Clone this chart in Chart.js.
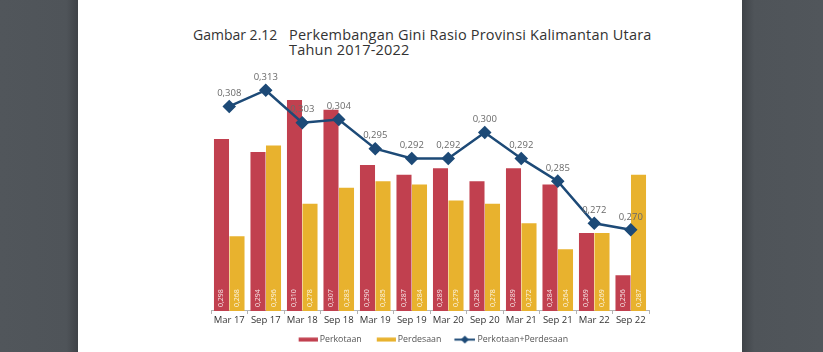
<!DOCTYPE html>
<html>
<head>
<meta charset="utf-8">
<script src="https://cdn.jsdelivr.net/npm/chart.js@4.4.1/dist/chart.umd.min.js"></script>
<style>
  html, body { margin:0; padding:0; background:#fff; }
  body { width:823px; height:352px; position:relative; overflow:hidden; }
  .strip { position:absolute; top:0; height:352px; background:#4f5459; }
  #leftStrip { left:0; width:78px; background:linear-gradient(to right,#51565b 0%,#4f5459 85%,#3f4348 100%); }
  #rightStrip { left:742px; width:81px; background:linear-gradient(to left,#51565b 0%,#4f5459 85%,#3f4348 100%); }
  .t { position:absolute; font-family:"Open Sans",sans-serif; color:#333; white-space:nowrap; line-height:15px; }
  #chartWrap { position:absolute; left:78px; top:60px; width:664px; height:294px; }
</style>
</head>
<body>
<div id="leftStrip" class="strip"></div>
<div id="rightStrip" class="strip"></div>
<div class="t" style="left:193px; top:27px; font-size:14px;">Gambar 2.12</div>
<div class="t" style="left:289px; top:27px; font-size:14.5px; letter-spacing:0.2px;">Perkembangan Gini Rasio Provinsi Kalimantan Utara</div>
<div class="t" style="left:289px; top:42px; font-size:14.5px; letter-spacing:0.2px;">Tahun 2017-2022</div>
<div id="chartWrap"><canvas id="c" width="664" height="294"></canvas></div>
<script>
const categories = ['Mar 17','Sep 17','Mar 18','Sep 18','Mar 19','Sep 19','Mar 20','Sep 20','Mar 21','Sep 21','Mar 22','Sep 22'];
const perkotaan = [0.298,0.294,0.310,0.307,0.290,0.287,0.289,0.285,0.289,0.284,0.269,0.256];
const perdesaan = [0.268,0.296,0.278,0.283,0.285,0.284,0.279,0.278,0.272,0.264,0.269,0.287];
const gabungan  = [0.308,0.313,0.303,0.304,0.295,0.292,0.292,0.300,0.292,0.285,0.272,0.270];
const seriesNames = ['Perkotaan','Perdesaan','Perkotaan+Perdesaan'];

const RED = '#c1404f', YEL = '#e8b22e', NAVY = '#1d4a77';

// legend icons: transparent margin on the left so the visible mark sits close to its text
function boxIcon(color){
  const c = document.createElement('canvas'); c.width = 28; c.height = 5;
  const x = c.getContext('2d'); x.fillStyle = color; x.fillRect(8.95,0.5,19,4); return c;
}
function lineIcon(){
  const c = document.createElement('canvas'); c.width = 28; c.height = 9;
  const x = c.getContext('2d');
  x.strokeStyle = NAVY; x.lineWidth = 2; x.beginPath(); x.moveTo(6.95,4.5); x.lineTo(27.95,4.5); x.stroke();
  x.fillStyle = NAVY; x.beginPath(); x.moveTo(17.45,0.5); x.lineTo(21.45,4.5); x.lineTo(17.45,8.5); x.lineTo(13.45,4.5); x.closePath(); x.fill();
  return c;
}

const fmt = v => v.toFixed(3).replace('.', ',');

const labelPlugin = {
  id: 'valueLabels',
  afterDatasetsDraw(chart){
    const ctx = chart.ctx;
    const bottom = chart.chartArea.bottom;
    [0,1].forEach(di => {
      const meta = chart.getDatasetMeta(di);
      meta.data.forEach((el, i) => {
        const v = chart.data.datasets[di].data[i];
        ctx.save();
        ctx.translate(el.x, bottom - 4);
        ctx.rotate(-Math.PI/2);
        ctx.font = '7px "Open Sans", sans-serif';
        ctx.fillStyle = 'rgba(255,255,255,0.85)';
        ctx.textAlign = 'left';
        ctx.textBaseline = 'middle';
        ctx.fillText(fmt(v), 0, 0);
        ctx.restore();
      });
    });
    const lm = chart.getDatasetMeta(2);
    ctx.save();
    ctx.font = '9.5px "Open Sans", sans-serif';
    ctx.fillStyle = '#6a6a6a';
    ctx.textAlign = 'center';
    ctx.textBaseline = 'middle';
    lm.data.forEach((el, i) => {
      ctx.fillText(fmt(gabungan[i]), el.x, el.y - 13);
    });
    ctx.restore();
  }
};

new Chart(document.getElementById('c'), {
  data: {
    labels: categories,
    datasets: [
      { type:'bar', label: seriesNames[0], data: perkotaan, backgroundColor: RED, order: 1,
        categoryPercentage: 0.85, barPercentage: 0.97 },
      { type:'bar', label: seriesNames[1], data: perdesaan, backgroundColor: YEL, order: 1,
        categoryPercentage: 0.85, barPercentage: 0.97 },
      { type:'line', label: seriesNames[2], data: gabungan, borderColor: NAVY, backgroundColor: NAVY,
        borderWidth: 2.5, pointStyle: 'rectRot', pointRadius: 5, pointBackgroundColor: NAVY,
        pointBorderColor: NAVY, order: 0, tension: 0 }
    ]
  },
  options: {
    responsive: false,
    devicePixelRatio: 1,
    animation: false,
    layout: { padding: { left: 133, right: 93, top: 4.8, bottom: 0 } },
    scales: {
      x: {
        offset: true,
        grid: { display: true, drawOnChartArea: false, drawTicks: true, tickLength: 3, color: '#b3b3b3', offset: true },
        border: { display: true, color: '#b3b3b3' },
        ticks: { color: '#333', font: { family: '"Open Sans", sans-serif', size: 9.5, lineHeight: 1.137 }, padding: 1, maxRotation: 0, autoSkip: false }
      },
      y: { display: false, min: 0.245, max: 0.32 }
    },
    plugins: {
      tooltip: { enabled: false },
      legend: {
        position: 'bottom',
        labels: {
          usePointStyle: true,
          pointStyleWidth: 23.3,
          padding: 8.4,
          color: '#555',
          font: { family: '"Open Sans", sans-serif', size: 8.8 },
          generateLabels(chart){
            const icons = [boxIcon(RED), boxIcon(YEL), lineIcon()];
            return chart.data.datasets.map((d, i) => ({
              text: d.label, pointStyle: icons[i], fillStyle: 'transparent', strokeStyle: 'transparent',
              lineWidth: 0, datasetIndex: i, hidden: false, fontColor: '#555'
            }));
          }
        }
      }
    }
  },
  plugins: [labelPlugin]
});
</script>
</body>
</html>
